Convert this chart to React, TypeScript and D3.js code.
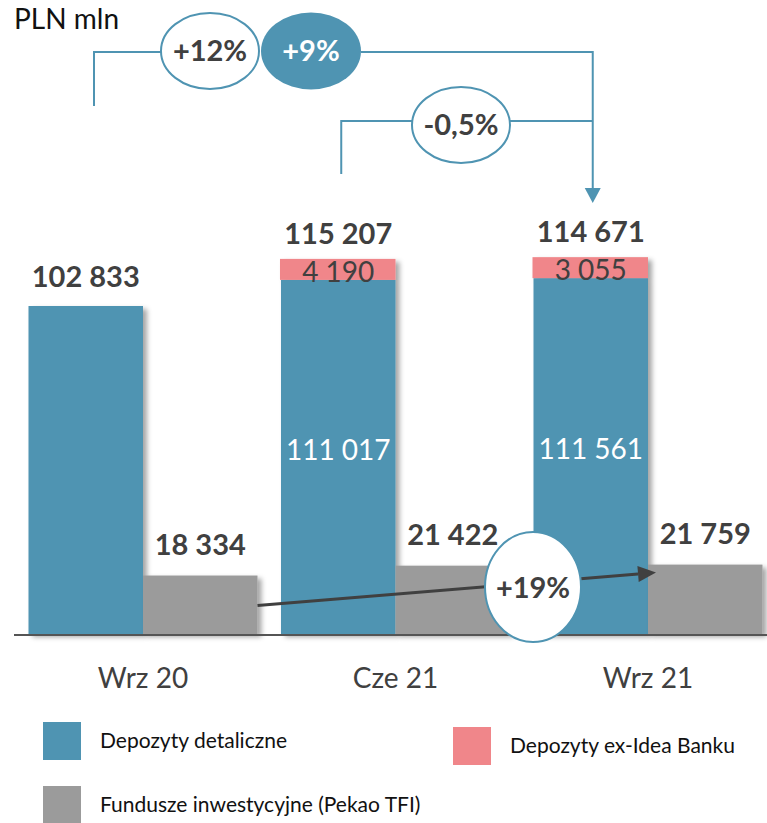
import React from "react";
import * as d3 from "d3";

const categories = ["Wrz 20", "Cze 21", "Wrz 21"];
const retailDeposits = [102833, 111017, 111561];
const ideaDeposits = [0, 4190, 3055];
const totalDeposits = [102833, 115207, 114671];
const investmentFunds = [18334, 21422, 21759];
const depositGrowth = ["+12%", "+9%", "-0,5%"];
const fundsGrowth = "+19%";
const unitLabel = "PLN mln";
const legendLabels = ["Depozyty detaliczne", "Depozyty ex-Idea Banku", "Fundusze inwestycyjne (Pekao TFI)"];

const BLUE = "#4f94b2";
const GREY = "#9b9b9b";
const PINK = "#f0868a";
const TXT = "#404040";
const FONT = "Lato, 'Open Sans', sans-serif";

const fmt = (v: number) => d3.format(",")(v).replace(/,/g, " ");

export default function App() {
  const W = 767, H = 823;
  const x = d3.scaleBand<string>().domain(categories).range([16.75, 774.25]).paddingInner(0.093).paddingOuter(0.0465);
  const y = d3.scaleLinear().domain([0, 120000]).range([634, 634 - 120000 * (328 / 102833)]);
  const bw = x.bandwidth() / 2;
  const minPink = 21;

  const blueX = (i: number) => x(categories[i])!;
  const greyX = (i: number) => x(categories[i])! + bw;
  const pinkTop = (i: number) => Math.min(y(totalDeposits[i]), y(retailDeposits[i]) - minPink);

  const c1 = blueX(1) + bw / 2, c2 = blueX(2) + bw / 2;
  const topY = 52, midY = 121;
  const e1 = { cx: 210, cy: 51, rx: 49, ry: 38 };
  const e2 = { cx: 311, cy: 51, rx: 50, ry: 38.5 };
  const e3 = { cx: 461, cy: 125, rx: 49, ry: 38 };
  const arrowX = c2 + 2;

  const fStart = { x: greyX(0) + bw, y: y(investmentFunds[0]) + 30 };
  const fEnd = { x: greyX(2) + 8, y: y(investmentFunds[2]) + 8 };
  const ang = Math.atan2(fEnd.y - fStart.y, fEnd.x - fStart.x);
  const ah = 18, aw = 8;
  const tip = fEnd;
  const base = { x: tip.x - ah * Math.cos(ang), y: tip.y - ah * Math.sin(ang) };
  const p1 = { x: base.x + aw * Math.sin(ang), y: base.y - aw * Math.cos(ang) };
  const p2 = { x: base.x - aw * Math.sin(ang), y: base.y + aw * Math.cos(ang) };

  return (
    <svg width={W} height={H} style={{ position: "absolute", left: 0, top: 0, background: "#fff" }} fontFamily={FONT}>
      <defs>
        <filter id="sh" x="-10%" y="-10%" width="130%" height="130%">
          <feDropShadow dx="4" dy="3" stdDeviation="2.5" floodColor="#000" floodOpacity="0.35" />
        </filter>
      </defs>

      <text x={14} y={29} fontSize={28} fill="#111">{unitLabel}</text>

      {categories.map((c, i) => (
        <g key={c}>
          <g filter="url(#sh)">
            <rect x={blueX(i)} y={y(retailDeposits[i])} width={bw} height={y(0) - y(retailDeposits[i])} fill={BLUE} />
            {ideaDeposits[i] > 0 && (
              <rect x={blueX(i) - 1} y={pinkTop(i)} width={bw + 1} height={y(retailDeposits[i]) - pinkTop(i)} fill={PINK} />
            )}
          </g>
          <rect x={greyX(i)} y={y(investmentFunds[i])} width={bw} height={y(0) - y(investmentFunds[i])} fill={GREY} filter="url(#sh)" />
        </g>
      ))}

      {categories.map((c, i) => (
        <g key={"l" + c} textAnchor="middle">
          <text x={blueX(i) + bw / 2} y={(ideaDeposits[i] > 0 ? pinkTop(i) - 15 : y(totalDeposits[i]) - 19)} fontSize={29} fontWeight={700} fill={TXT}>{fmt(totalDeposits[i])}</text>
          {ideaDeposits[i] > 0 && (
            <>
              <text x={blueX(i) + bw / 2} y={y(retailDeposits[i]) + 2} fontSize={28} fill={TXT}>{fmt(ideaDeposits[i])}</text>
              <text x={blueX(i) + bw / 2} y={(y(retailDeposits[i]) + y(0)) / 2 + 3} fontSize={28} fill="#fff">{fmt(retailDeposits[i])}</text>
            </>
          )}
          <text x={greyX(i) + bw / 2} y={y(investmentFunds[i]) - 21} fontSize={29} fontWeight={700} fill={TXT}>{fmt(investmentFunds[i])}</text>
          <text x={x(c)! + x.bandwidth() / 2} y={688} fontSize={28} fill={TXT}>{c}</text>
        </g>
      ))}

      <line x1={14} x2={767} y1={y(0) + 1} y2={y(0) + 1} stroke="#555" strokeWidth={2} />

      <g stroke={BLUE} strokeWidth={2} fill="none">
        <polyline points={`${94},${106} ${94},${topY} ${e1.cx - e1.rx},${topY}`} />
        <polyline points={`${e2.cx + e2.rx},${topY} ${arrowX},${topY} ${arrowX},${190}`} />
        <polyline points={`${c1 + 3},${174} ${c1 + 3},${midY} ${e3.cx - e3.rx},${midY}`} />
        <line x1={e3.cx + e3.rx} x2={arrowX} y1={midY} y2={midY} />
      </g>
      <polygon points={`${arrowX - 8},${188} ${arrowX + 8},${188} ${arrowX},${203}`} fill={BLUE} />
      <ellipse cx={e1.cx} cy={e1.cy} rx={e1.rx} ry={e1.ry} fill="#fff" stroke={BLUE} strokeWidth={2} />
      <ellipse cx={e2.cx} cy={e2.cy} rx={e2.rx} ry={e2.ry} fill={BLUE} />
      <ellipse cx={e3.cx} cy={e3.cy} rx={e3.rx} ry={e3.ry} fill="#fff" stroke={BLUE} strokeWidth={2} />
      <g textAnchor="middle" fontSize={29} fontWeight={700}>
        <text x={e1.cx} y={e1.cy + 10} fill={TXT}>{depositGrowth[0]}</text>
        <text x={e2.cx} y={e2.cy + 10} fill="#fff">{depositGrowth[1]}</text>
        <text x={e3.cx} y={e3.cy + 10} fill={TXT}>{depositGrowth[2]}</text>
      </g>

      <line x1={fStart.x} y1={fStart.y} x2={base.x} y2={base.y} stroke={TXT} strokeWidth={3} />
      <polygon points={`${tip.x},${tip.y} ${p1.x},${p1.y} ${p2.x},${p2.y}`} fill={TXT} />
      <ellipse cx={533} cy={587} rx={48} ry={55} fill="#fff" stroke={BLUE} strokeWidth={2} />
      <text x={533} y={598} textAnchor="middle" fontSize={29} fontWeight={700} fill={TXT}>{fundsGrowth}</text>

      <rect x={43} y={722} width={38} height={38} fill={BLUE} />
      <text x={100} y={748} fontSize={21} fill="#111">{legendLabels[0]}</text>
      <rect x={453} y={727} width={38} height={38} fill={PINK} />
      <text x={510} y={753} fontSize={21} fill="#111">{legendLabels[1]}</text>
      <rect x={43} y={786} width={38} height={38} fill={GREY} />
      <text x={100} y={812} fontSize={21} fill="#111">{legendLabels[2]}</text>
    </svg>
  );
}
